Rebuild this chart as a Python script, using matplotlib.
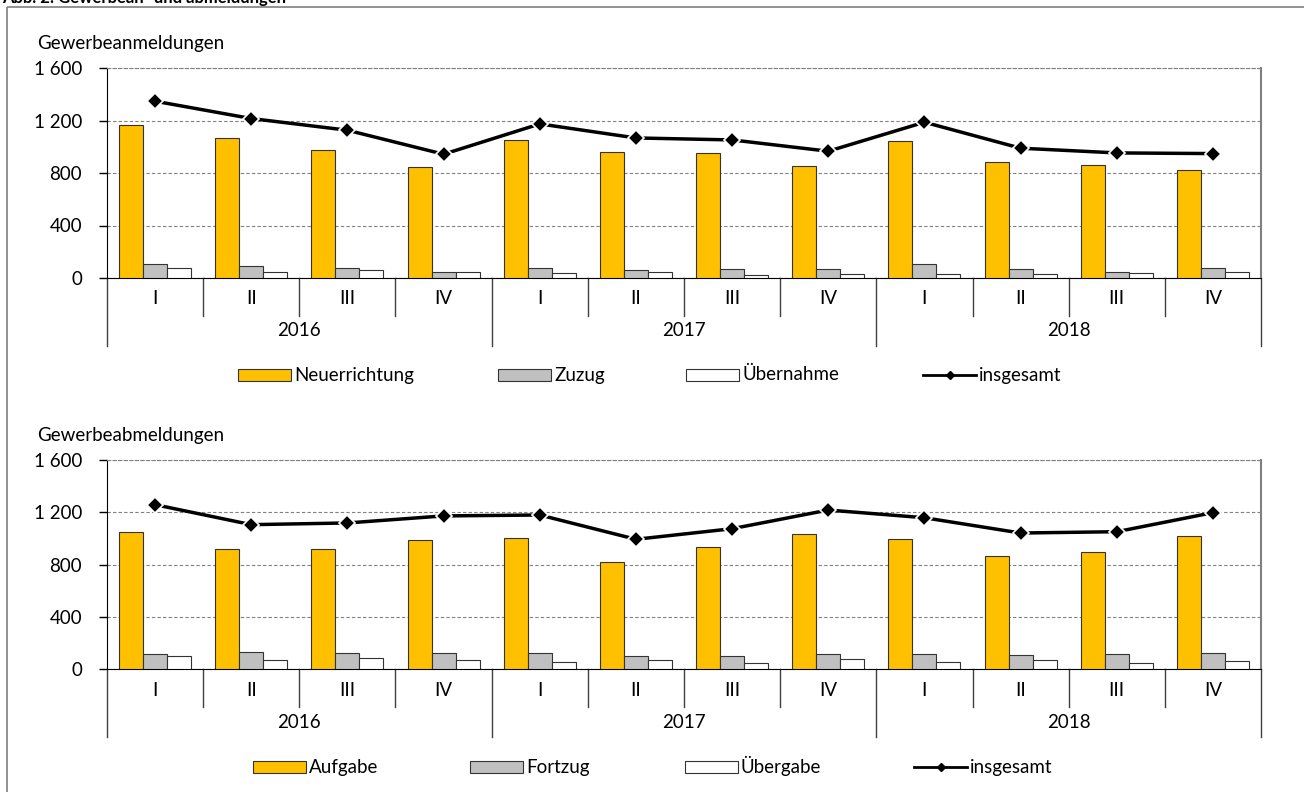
import matplotlib
matplotlib.use("Agg")
import matplotlib.pyplot as plt
import matplotlib.transforms as mtransforms
from matplotlib.patches import Rectangle
from matplotlib.lines import Line2D
import numpy as np

plt.rcParams['font.family'] = ['Lato', 'DejaVu Sans']
plt.rcParams['font.size'] = 13.5

# Data (quarters 2016 I - 2018 IV)
quarters = ["I", "II", "III", "IV"] * 3
years = ["2016", "2017", "2018"]

anm_neuerrichtung = [1164, 1067, 978, 843, 1050, 960, 955, 856, 1042, 882, 861, 823]
anm_zuzug = [110, 95, 79, 49, 79, 59, 72, 69, 105, 69, 49, 79]
anm_uebernahme = [76, 49, 64, 49, 38, 46, 23, 34, 34, 34, 41, 46]
anm_insgesamt = [1347, 1215, 1126, 943, 1174, 1067, 1052, 966, 1187, 989, 953, 948]

abm_aufgabe = [1051, 916, 921, 988, 1001, 822, 932, 1031, 995, 865, 896, 1016]
abm_fortzug = [112, 128, 120, 120, 120, 97, 100, 115, 115, 105, 115, 122]
abm_uebergabe = [97, 71, 82, 67, 54, 71, 48, 74, 51, 69, 43, 59]
abm_insgesamt = [1258, 1105, 1118, 1172, 1179, 993, 1074, 1217, 1158, 1041, 1051, 1197]

yticks = [0, 400, 800, 1200, 1600]
ytick_labels = ["0", "400", "800", "1 200", "1 600"]

ORANGE = "#FFC000"
GREY = "#C0C0C0"
W, H = 1304, 792

fig = plt.figure(figsize=(W / 100, H / 100), dpi=100)
# pixel coordinates measured from the top-left corner
px = mtransforms.Affine2D().scale(1 / W, -1 / H).translate(0, 1) + fig.transFigure

# outer frame and (cut off) title
fig.add_artist(Rectangle((7, 7), 1400, 900, transform=px, fill=False,
                         edgecolor="#7f7f7f", lw=1.2, clip_on=False))
fig.text(2, 3, "Abb. 2: Gewerbean- und abmeldungen", transform=px, fontsize=12,
         fontweight="bold", va="baseline", ha="left")


def legend_entry(kind, color, name, lx, ly):
    if kind == "bar":
        fig.add_artist(Rectangle((lx, ly - 6), 53, 12, transform=px, facecolor=color,
                                 edgecolor="#333333", lw=0.8))
    else:
        fig.add_artist(Line2D([lx, lx + 53], [ly, ly], transform=px, color="black", lw=2))
        fig.add_artist(Line2D([lx + 26.5], [ly], transform=px, color="black", marker="D",
                              markersize=4))
    fig.text(lx + 56, ly + 5.5, name, transform=px, ha="left", va="baseline")


def panel(top_px, bottom_px, series, total, names, title, legend_x, legend_y):
    ax = fig.add_axes([107 / W, 1 - bottom_px / H, (1261 - 107) / W, (bottom_px - top_px) / H])
    x = np.arange(len(total))
    w = 0.25
    ax.bar(x - w, series[0], w, color=ORANGE, edgecolor="#333333", lw=0.8, zorder=3)
    ax.bar(x, series[1], w, color=GREY, edgecolor="#333333", lw=0.8, zorder=3)
    ax.bar(x + w, series[2], w, color="white", edgecolor="#333333", lw=0.8, zorder=3)
    ax.plot(x, total, color="black", lw=2.5, marker="D", markersize=8,
            markerfacecolor="black", markeredgecolor="white", markeredgewidth=1.2, zorder=4)

    ax.set_xlim(-0.5, len(total) - 0.5)
    ax.set_ylim(0, 1600)
    ax.set_yticks(yticks)
    ax.set_yticklabels(ytick_labels)
    ax.tick_params(axis="y", length=6, width=1, direction="out", pad=12)
    ax.set_xticks([])
    ax.grid(axis="y", color="#808080", linestyle=(0, (3, 2)), lw=0.8, zorder=0)
    ax.spines["left"].set_color("black")
    ax.spines["bottom"].set_color("black")
    ax.spines["top"].set_color("#808080")
    ax.spines["top"].set_linestyle((0, (3, 2)))
    ax.spines["right"].set_color("#808080")
    ax.spines["right"].set_linewidth(1.5)

    # two-level category axis
    trans = mtransforms.blended_transform_factory(ax.transData, ax.transAxes)
    h = bottom_px - top_px
    for i, q in enumerate(quarters):
        ax.text(i, -21 / h, q, transform=trans, ha="center", va="center")
    for b in range(len(quarters) + 1):
        depth = 68 if b % 4 == 0 else 38
        ax.plot([b - 0.5, b - 0.5], [0, -depth / h], transform=trans, color="#404040",
                lw=1, clip_on=False)
    for j, yr in enumerate(years):
        ax.text(4 * j + 1.5, -53 / h, yr, transform=trans, ha="center", va="center")

    fig.text(37, top_px - 24, title, transform=px, ha="left", va="center")

    kinds = [("bar", ORANGE), ("bar", GREY), ("bar", "white"), ("line", "black")]
    for (kind, col), name, lx in zip(kinds, names, legend_x):
        legend_entry(kind, col, name, lx, legend_y)
    return ax


panel(68, 278, [anm_neuerrichtung, anm_zuzug, anm_uebernahme], anm_insgesamt,
      ["Neuerrichtung", "Zuzug", "Übernahme", "insgesamt"], "Gewerbeanmeldungen",
      [238, 498, 686, 923], 375)
panel(460, 669, [abm_aufgabe, abm_fortzug, abm_uebergabe], abm_insgesamt,
      ["Aufgabe", "Fortzug", "Übergabe", "insgesamt"], "Gewerbeabmeldungen",
      [253, 470, 685, 914], 767)

fig.savefig("out.png", dpi=100)
